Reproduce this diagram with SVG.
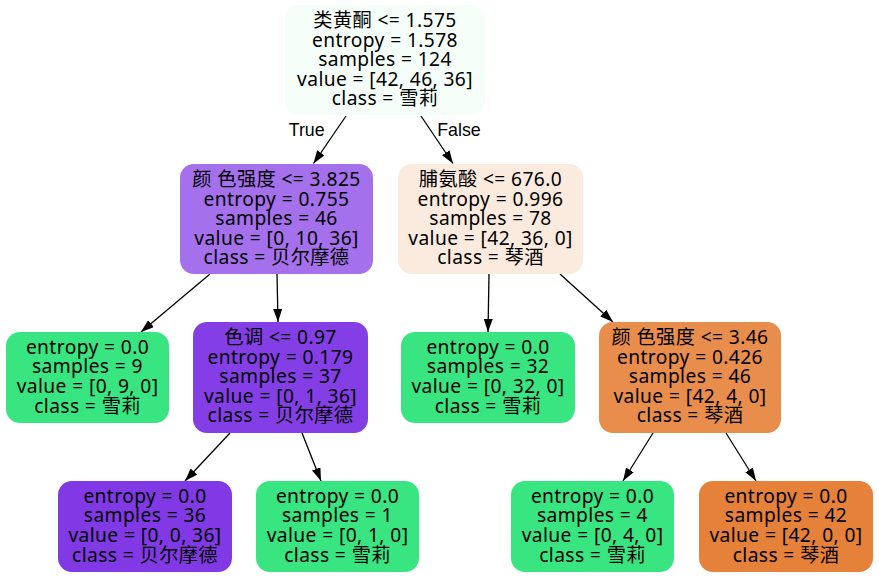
<svg xmlns="http://www.w3.org/2000/svg" width="879" height="577" viewBox="0 0 879 577">
<defs>
<marker id="arr" viewBox="0 0 13 9" refX="13" refY="4.5" markerWidth="13" markerHeight="9" markerUnits="userSpaceOnUse" orient="auto">
<path d="M0,0 L13,4.5 L0,9 z" fill="#000"/>
</marker>
<style>
.n rect{stroke:none}
.n text{font-family:"Noto Sans","Noto Sans CJK SC",sans-serif;font-size:19.2px;letter-spacing:0.4px;fill:#000;text-anchor:middle}
.e line{stroke:#000;stroke-width:1.3;marker-end:url(#arr)}
.lbl{font-family:"Liberation Sans",Arial,sans-serif;font-size:17.8px;fill:#000;text-anchor:middle}
</style>
</defs>
<rect width="879" height="577" fill="#fff"/>
<g id="edges" class="e">
<line x1="346" y1="116" x2="313.5" y2="163.5"/>
<line x1="421" y1="116" x2="453" y2="163.5"/>
<line x1="210" y1="274" x2="141" y2="332"/>
<line x1="277" y1="274" x2="278" y2="322"/>
<line x1="489" y1="274" x2="488" y2="332"/>
<line x1="560" y1="274" x2="613" y2="322"/>
<line x1="230" y1="433" x2="185" y2="481"/>
<line x1="302" y1="433" x2="321" y2="481"/>
<line x1="653" y1="433" x2="623" y2="481"/>
<line x1="726" y1="433" x2="756" y2="481"/>
<text class="lbl" x="306.7" y="136">True</text>
<text class="lbl" x="459" y="136">False</text>
</g>
<g id="node0" class="n">
<rect x="285" y="5" width="200" height="110" rx="14" fill="#f5fef9"/>
<text x="385" y="27">类黄酮 &lt;= 1.575</text>
<text x="385" y="46.6">entropy = 1.578</text>
<text x="385" y="66.2">samples = 124</text>
<text x="385" y="85.8">value = [42, 46, 36]</text>
<text x="385" y="105.4">class = 雪莉</text>
</g>
<g id="node1" class="n">
<rect x="180" y="164" width="193" height="110" rx="14" fill="#a470ec"/>
<text x="276.5" y="186">颜 色强度 &lt;= 3.825</text>
<text x="276.5" y="205.6">entropy = 0.755</text>
<text x="276.5" y="225.2">samples = 46</text>
<text x="276.5" y="244.8">value = [0, 10, 36]</text>
<text x="276.5" y="264.4">class = 贝尔摩德</text>
</g>
<g id="node2" class="n">
<rect x="398" y="164" width="185" height="110" rx="14" fill="#fbeade"/>
<text x="490.5" y="186">脯氨酸 &lt;= 676.0</text>
<text x="490.5" y="205.6">entropy = 0.996</text>
<text x="490.5" y="225.2">samples = 78</text>
<text x="490.5" y="244.8">value = [42, 36, 0]</text>
<text x="490.5" y="264.4">class = 琴酒</text>
</g>
<g id="node3" class="n">
<rect x="6" y="332" width="163" height="91" rx="14" fill="#39e581"/>
<text x="87.5" y="353.8">entropy = 0.0</text>
<text x="87.5" y="373.4">samples = 9</text>
<text x="87.5" y="393">value = [0, 9, 0]</text>
<text x="87.5" y="412.6">class = 雪莉</text>
</g>
<g id="node4" class="n">
<rect x="193" y="322" width="175" height="111" rx="14" fill="#843ee6"/>
<text x="280.5" y="344">色调 &lt;= 0.97</text>
<text x="280.5" y="363.6">entropy = 0.179</text>
<text x="280.5" y="383.2">samples = 37</text>
<text x="280.5" y="402.8">value = [0, 1, 36]</text>
<text x="280.5" y="422.4">class = 贝尔摩德</text>
</g>
<g id="node5" class="n">
<rect x="401" y="332" width="174" height="91" rx="14" fill="#39e581"/>
<text x="488" y="353.8">entropy = 0.0</text>
<text x="488" y="373.4">samples = 32</text>
<text x="488" y="393">value = [0, 32, 0]</text>
<text x="488" y="412.6">class = 雪莉</text>
</g>
<g id="node6" class="n">
<rect x="599" y="322" width="182" height="111" rx="14" fill="#e88d4c"/>
<text x="690" y="344">颜 色强度 &lt;= 3.46</text>
<text x="690" y="363.6">entropy = 0.426</text>
<text x="690" y="383.2">samples = 46</text>
<text x="690" y="402.8">value = [42, 4, 0]</text>
<text x="690" y="422.4">class = 琴酒</text>
</g>
<g id="node7" class="n">
<rect x="58" y="481" width="174" height="91" rx="14" fill="#8139e5"/>
<text x="145" y="502.8">entropy = 0.0</text>
<text x="145" y="522.4">samples = 36</text>
<text x="145" y="542">value = [0, 0, 36]</text>
<text x="145" y="561.6">class = 贝尔摩德</text>
</g>
<g id="node8" class="n">
<rect x="256" y="481" width="163" height="91" rx="14" fill="#39e581"/>
<text x="337.5" y="502.8">entropy = 0.0</text>
<text x="337.5" y="522.4">samples = 1</text>
<text x="337.5" y="542">value = [0, 1, 0]</text>
<text x="337.5" y="561.6">class = 雪莉</text>
</g>
<g id="node9" class="n">
<rect x="511" y="481" width="163" height="91" rx="14" fill="#39e581"/>
<text x="592.5" y="502.8">entropy = 0.0</text>
<text x="592.5" y="522.4">samples = 4</text>
<text x="592.5" y="542">value = [0, 4, 0]</text>
<text x="592.5" y="561.6">class = 雪莉</text>
</g>
<g id="node10" class="n">
<rect x="699" y="481" width="174" height="91" rx="14" fill="#e58139"/>
<text x="786" y="502.8">entropy = 0.0</text>
<text x="786" y="522.4">samples = 42</text>
<text x="786" y="542">value = [42, 0, 0]</text>
<text x="786" y="561.6">class = 琴酒</text>
</g>
</svg>
